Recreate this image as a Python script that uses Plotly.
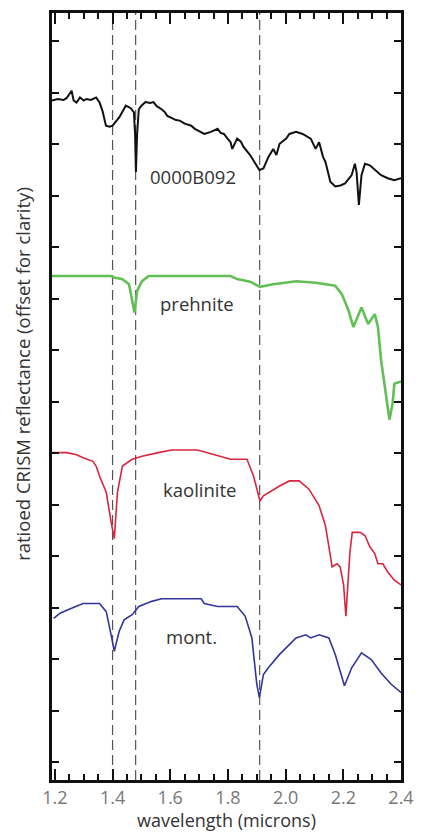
import plotly.graph_objects as go

# ---- data (wavelength in microns, ratioed reflectance offset for clarity) ----
b092_wl = [1.19, 1.21, 1.23, 1.241, 1.258, 1.265, 1.275, 1.287, 1.30, 1.309, 1.325, 1.343, 1.355,
           1.365, 1.377, 1.39, 1.40, 1.423, 1.446, 1.463, 1.474, 1.478, 1.481, 1.485, 1.491, 1.50,
           1.514, 1.53, 1.542, 1.553, 1.57, 1.582, 1.59, 1.604, 1.62, 1.633, 1.65, 1.673, 1.685,
           1.695, 1.718, 1.741, 1.764, 1.775, 1.786, 1.80, 1.809, 1.815, 1.832, 1.845, 1.854, 1.877,
           1.895, 1.909, 1.923, 1.94, 1.957, 1.968, 1.979, 2.002, 2.013, 2.036, 2.059, 2.087, 2.104,
           2.116, 2.13, 2.138, 2.155, 2.172, 2.19, 2.206, 2.229, 2.24, 2.246, 2.254, 2.263, 2.275,
           2.292, 2.309, 2.331, 2.354, 2.377, 2.40]
b092_r = [12.85, 12.88, 12.86, 12.90, 13.04, 12.85, 12.81, 12.91, 12.85, 12.88, 12.86, 12.91, 12.81,
          12.65, 12.36, 12.34, 12.36, 12.52, 12.75, 12.70, 12.62, 12.20, 11.46, 12.20, 12.68, 12.75,
          12.82, 12.80, 12.82, 12.74, 12.68, 12.62, 12.55, 12.52, 12.47, 12.46, 12.40, 12.36, 12.30,
          12.27, 12.20, 12.24, 12.30, 12.22, 12.20, 12.10, 12.04, 11.91, 12.11, 12.05, 11.95, 11.79,
          11.62, 11.50, 11.53, 11.75, 11.91, 11.79, 12.01, 12.11, 12.20, 12.24, 12.20, 12.11, 11.91,
          12.04, 11.75, 11.66, 11.27, 11.18, 11.20, 11.24, 11.40, 11.62, 11.46, 10.82, 11.40, 11.62,
          11.59, 11.50, 11.40, 11.34, 11.30, 11.34]

prehnite_wl = [1.19, 1.395, 1.406, 1.434, 1.457, 1.468, 1.476, 1.485, 1.502, 1.525, 1.809, 1.832,
               1.877, 1.911, 1.957, 2.036, 2.104, 2.172, 2.195, 2.218, 2.235, 2.263, 2.286, 2.309,
               2.32, 2.331, 2.349, 2.36, 2.371, 2.377, 2.40]
prehnite_r = [9.44, 9.44, 9.41, 9.38, 9.28, 8.96, 8.73, 9.15, 9.34, 9.44, 9.44, 9.38,
              9.33, 9.23, 9.28, 9.34, 9.31, 9.25, 9.09, 8.77, 8.45, 8.83, 8.51, 8.70,
              8.45, 7.80, 7.03, 6.65, 6.97, 7.35, 7.39]

kaolinite_wl = [1.196, 1.241, 1.275, 1.298, 1.332, 1.343, 1.355, 1.378, 1.395, 1.406, 1.417, 1.434,
                1.468, 1.502, 1.559, 1.604, 1.695, 1.741, 1.809, 1.866, 1.889, 1.911, 1.923, 1.979,
                2.013, 2.047, 2.081, 2.116, 2.138, 2.155, 2.161, 2.178, 2.189, 2.201, 2.206, 2.209,
                2.212, 2.223, 2.231, 2.258, 2.275, 2.292, 2.309, 2.32, 2.337, 2.354, 2.377, 2.40]
kaolinite_r = [6.01, 6.01, 5.97, 5.91, 5.84, 5.75, 5.55, 5.24, 4.66, 4.34, 5.24, 5.75,
               5.88, 5.94, 6.01, 6.06, 6.06, 5.99, 5.88, 5.88, 5.55, 5.07, 5.17, 5.36,
               5.46, 5.46, 5.30, 4.98, 4.59, 4.01, 3.79, 3.85, 3.79, 3.44, 3.05, 2.83,
               3.12, 4.08, 4.46, 4.46, 4.40, 4.18, 4.05, 3.85, 3.85, 3.69, 3.53, 3.44]

mont_wl = [1.196, 1.218, 1.264, 1.298, 1.355, 1.378, 1.395, 1.406, 1.423, 1.44, 1.468, 1.491,
           1.536, 1.57, 1.707, 1.718, 1.764, 1.832, 1.86, 1.883, 1.90, 1.909, 1.923, 1.94,
           1.979, 2.013, 2.036, 2.07, 2.087, 2.116, 2.15, 2.172, 2.204, 2.229, 2.263, 2.297,
           2.331, 2.366, 2.40]
mont_r = [2.79, 2.89, 3.00, 3.08, 3.08, 2.92, 2.47, 2.15, 2.54, 2.76, 2.86, 3.02,
          3.12, 3.17, 3.17, 3.08, 3.02, 3.02, 2.83, 2.41, 1.51, 1.25, 1.70, 1.83,
          2.09, 2.28, 2.41, 2.47, 2.41, 2.47, 2.41, 2.09, 1.48, 1.83, 2.12, 1.99,
          1.73, 1.51, 1.35]

feature_lines = [1.40, 1.48, 1.91]
x_tick_vals = [1.2, 1.4, 1.6, 1.8, 2.0, 2.2, 2.4]
x_tick_text = ["1.2", "1.4", "1.6", "1.8", "2.0", "2.2", "2.4"]

FONT = "Open Sans"

fig = go.Figure()
series = [
    (b092_wl, b092_r, "#111111", 2.0, "0000B092"),
    (prehnite_wl, prehnite_r, "#62bf55", 2.6, "prehnite"),
    (kaolinite_wl, kaolinite_r, "#d9263f", 1.6, "kaolinite"),
    (mont_wl, mont_r, "#3434a0", 1.6, "mont."),
]
for wl, r, col, w, name in series:
    fig.add_trace(go.Scatter(x=wl, y=r, mode="lines", name=name,
                             line=dict(color=col, width=w), showlegend=False))

for xv in feature_lines:
    fig.add_shape(type="line", xref="x", yref="paper", x0=xv, x1=xv, y0=0, y1=1,
                  line=dict(color="#555555", width=1.2, dash="10px,5px"), layer="below")

labels = [("0000B092", 1.678, 11.37), ("prehnite", 1.692, 8.90),
          ("kaolinite", 1.702, 5.30), ("mont.", 1.675, 2.43)]
for txt, xv, yv in labels:
    fig.add_annotation(x=xv, y=yv, text=txt, showarrow=False, xref="x", yref="y",
                       font=dict(family=FONT, size=18.5, color="#333333"))

fig.add_annotation(x=-0.085, y=0.53, xref="paper", yref="paper",
                   xanchor="center", yanchor="middle",
                   text="ratioed CRISM reflectance (offset for clarity)",
                   textangle=-90, showarrow=False, font=dict(family=FONT, size=18.5, color="#333333"))

fig.update_xaxes(range=[1.19, 2.40], tickvals=x_tick_vals, ticktext=x_tick_text,
                 ticks="inside", ticklen=11, tickwidth=1.5, tickcolor="#111111",
                 minor=dict(dtick=0.05, tick0=1.2, ticks="inside", ticklen=6, tickwidth=1.5, tickcolor="#111111"),
                 showline=True, linecolor="#111111", linewidth=2.5, mirror="allticks",
                 showgrid=False, zeroline=False,
                 tickfont=dict(family=FONT, size=18, color="#777777"),
                 title=dict(text="wavelength (microns)", font=dict(family=FONT, size=18, color="#333333"), standoff=0))
fig.update_yaxes(range=[-0.35, 14.55], tick0=0, dtick=1, showticklabels=False,
                 ticks="inside", ticklen=7, tickwidth=2, tickcolor="#111111",
                 showline=True, linecolor="#111111", linewidth=2.5, mirror="allticks",
                 showgrid=False, zeroline=False)

fig.update_layout(width=424, height=832, margin=dict(l=52, r=18, t=10, b=49),
                  plot_bgcolor="white", paper_bgcolor="white", showlegend=False)

fig.write_html("out.html", config={"displayModeBar": False},
               post_script="document.body.style.margin='0';document.body.style.padding='0';document.body.style.overflow='hidden';")
